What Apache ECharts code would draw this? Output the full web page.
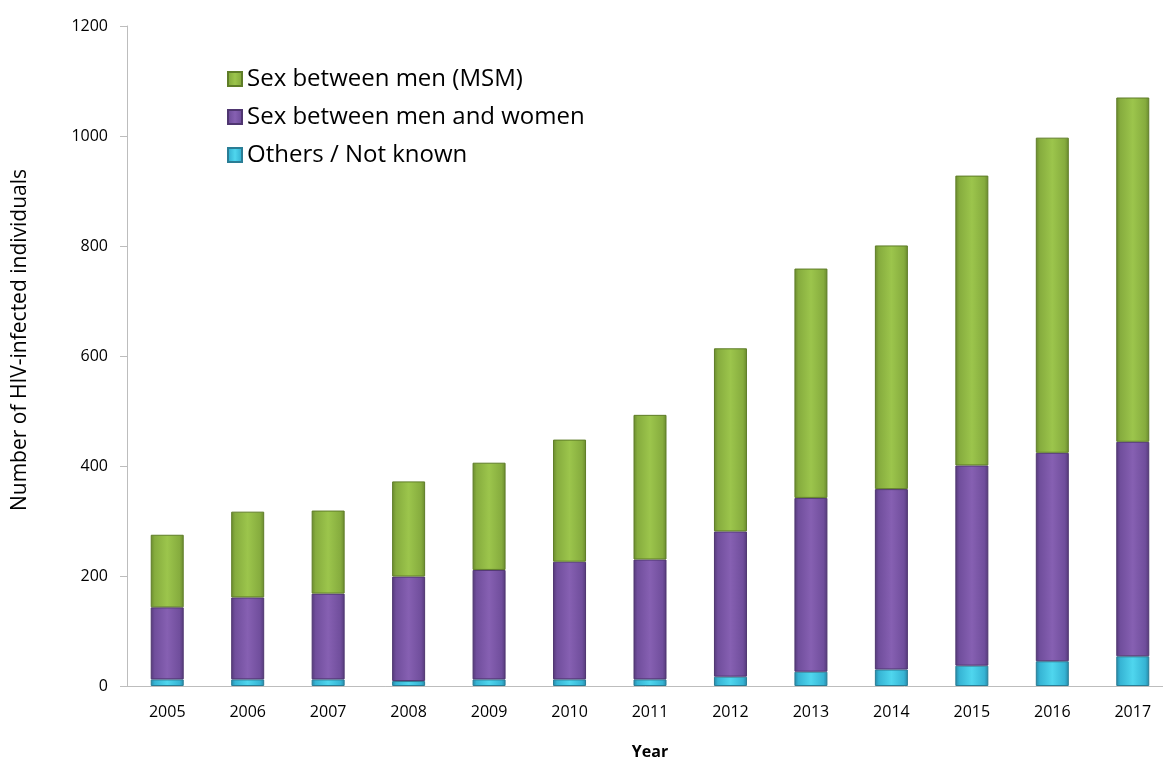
<!DOCTYPE html>
<html>
<head>
<meta charset="utf-8">
<script src="https://cdn.jsdelivr.net/npm/echarts@6/dist/echarts.min.js"></script>
<style>
  html, body { margin: 0; padding: 0; background: #fff; }
  #chart { width: 1163px; height: 760px; }
</style>
</head>
<body>
<div id="chart"></div>
<script>
var years = ['2005', '2006', '2007', '2008', '2009', '2010', '2011', '2012', '2013', '2014', '2015', '2016', '2017'];
var others = [12, 12, 12, 9, 12, 12, 12, 17, 26, 30, 37, 45, 54];
var menWomen = [131, 149, 156, 190, 199, 214, 218, 264, 316, 328, 364, 379, 390];
var msm = [132, 156, 151, 173, 195, 222, 263, 333, 417, 443, 527, 573, 626];

var fontFam = '"Open Sans", "Noto Sans", sans-serif';

// horizontal shading so the bars look a bit rounded, like the original
function grad(light, mid, dark) {
  return new echarts.graphic.LinearGradient(0, 0, 1, 0, [
    { offset: 0, color: dark },
    { offset: 0.12, color: mid },
    { offset: 0.5, color: light },
    { offset: 0.88, color: mid },
    { offset: 1, color: dark }
  ]);
}

var chart = echarts.init(document.getElementById('chart'));
chart.setOption({
  animation: false,
  grid: { left: 127, right: -10, top: 26, bottom: 74, containLabel: false, outerBoundsMode: 'none' },
  legend: {
    orient: 'vertical',
    left: 222,
    top: 62,
    itemWidth: 14,
    itemHeight: 14,
    itemGap: 14,
    icon: 'rect',
    textStyle: { fontSize: 24, color: '#000', fontFamily: fontFam },
    data: ['Sex between men (MSM)', 'Sex between men and women', 'Others / Not known']
  },
  xAxis: {
    type: 'category',
    data: years,
    name: 'Year',
    nameLocation: 'middle',
    nameGap: 58,
    nameTextStyle: { fontSize: 16, fontWeight: 'bold', color: '#000', fontFamily: fontFam },
    axisLine: { lineStyle: { color: '#bdbdbd' } },
    axisTick: { length: 8, lineStyle: { color: '#bdbdbd' } },
    axisLabel: { fontSize: 16, color: '#000', margin: 18, fontFamily: fontFam }
  },
  yAxis: {
    type: 'value',
    min: 0,
    max: 1200,
    interval: 200,
    name: 'Number of HIV-infected individuals',
    nameLocation: 'middle',
    nameGap: 96,
    nameTextStyle: { fontSize: 21, color: '#000', fontFamily: fontFam, padding: [0, 0, 0, 32] },
    axisLine: { show: true, lineStyle: { color: '#bdbdbd' } },
    axisTick: { show: true, length: 7, lineStyle: { color: '#bdbdbd' } },
    splitLine: { show: false },
    axisLabel: {
      fontSize: 16, color: '#000', margin: 19, fontFamily: fontFam,
      formatter: function(v) { return String(v); }
    }
  },
  series: [{
    name: 'Others / Not known',
    type: 'bar',
    stack: 'total',
    barWidth: 33,
    data: others,
    itemStyle: { color: grad('#4fd6ee', '#36b4d4', '#2687a6'), borderColor: '#2a7d95', borderWidth: 1 }
  }, {
    name: 'Sex between men and women',
    type: 'bar',
    stack: 'total',
    data: menWomen,
    itemStyle: { color: grad('#8660b2', '#704e9c', '#553a7a'), borderColor: '#4f3670', borderWidth: 1 }
  }, {
    name: 'Sex between men (MSM)',
    type: 'bar',
    stack: 'total',
    data: msm,
    itemStyle: { color: grad('#9cc54c', '#86ac3e', '#6a8a2e'), borderColor: '#5f7d28', borderWidth: 1 }
  }]
});
</script>
</body>
</html>
